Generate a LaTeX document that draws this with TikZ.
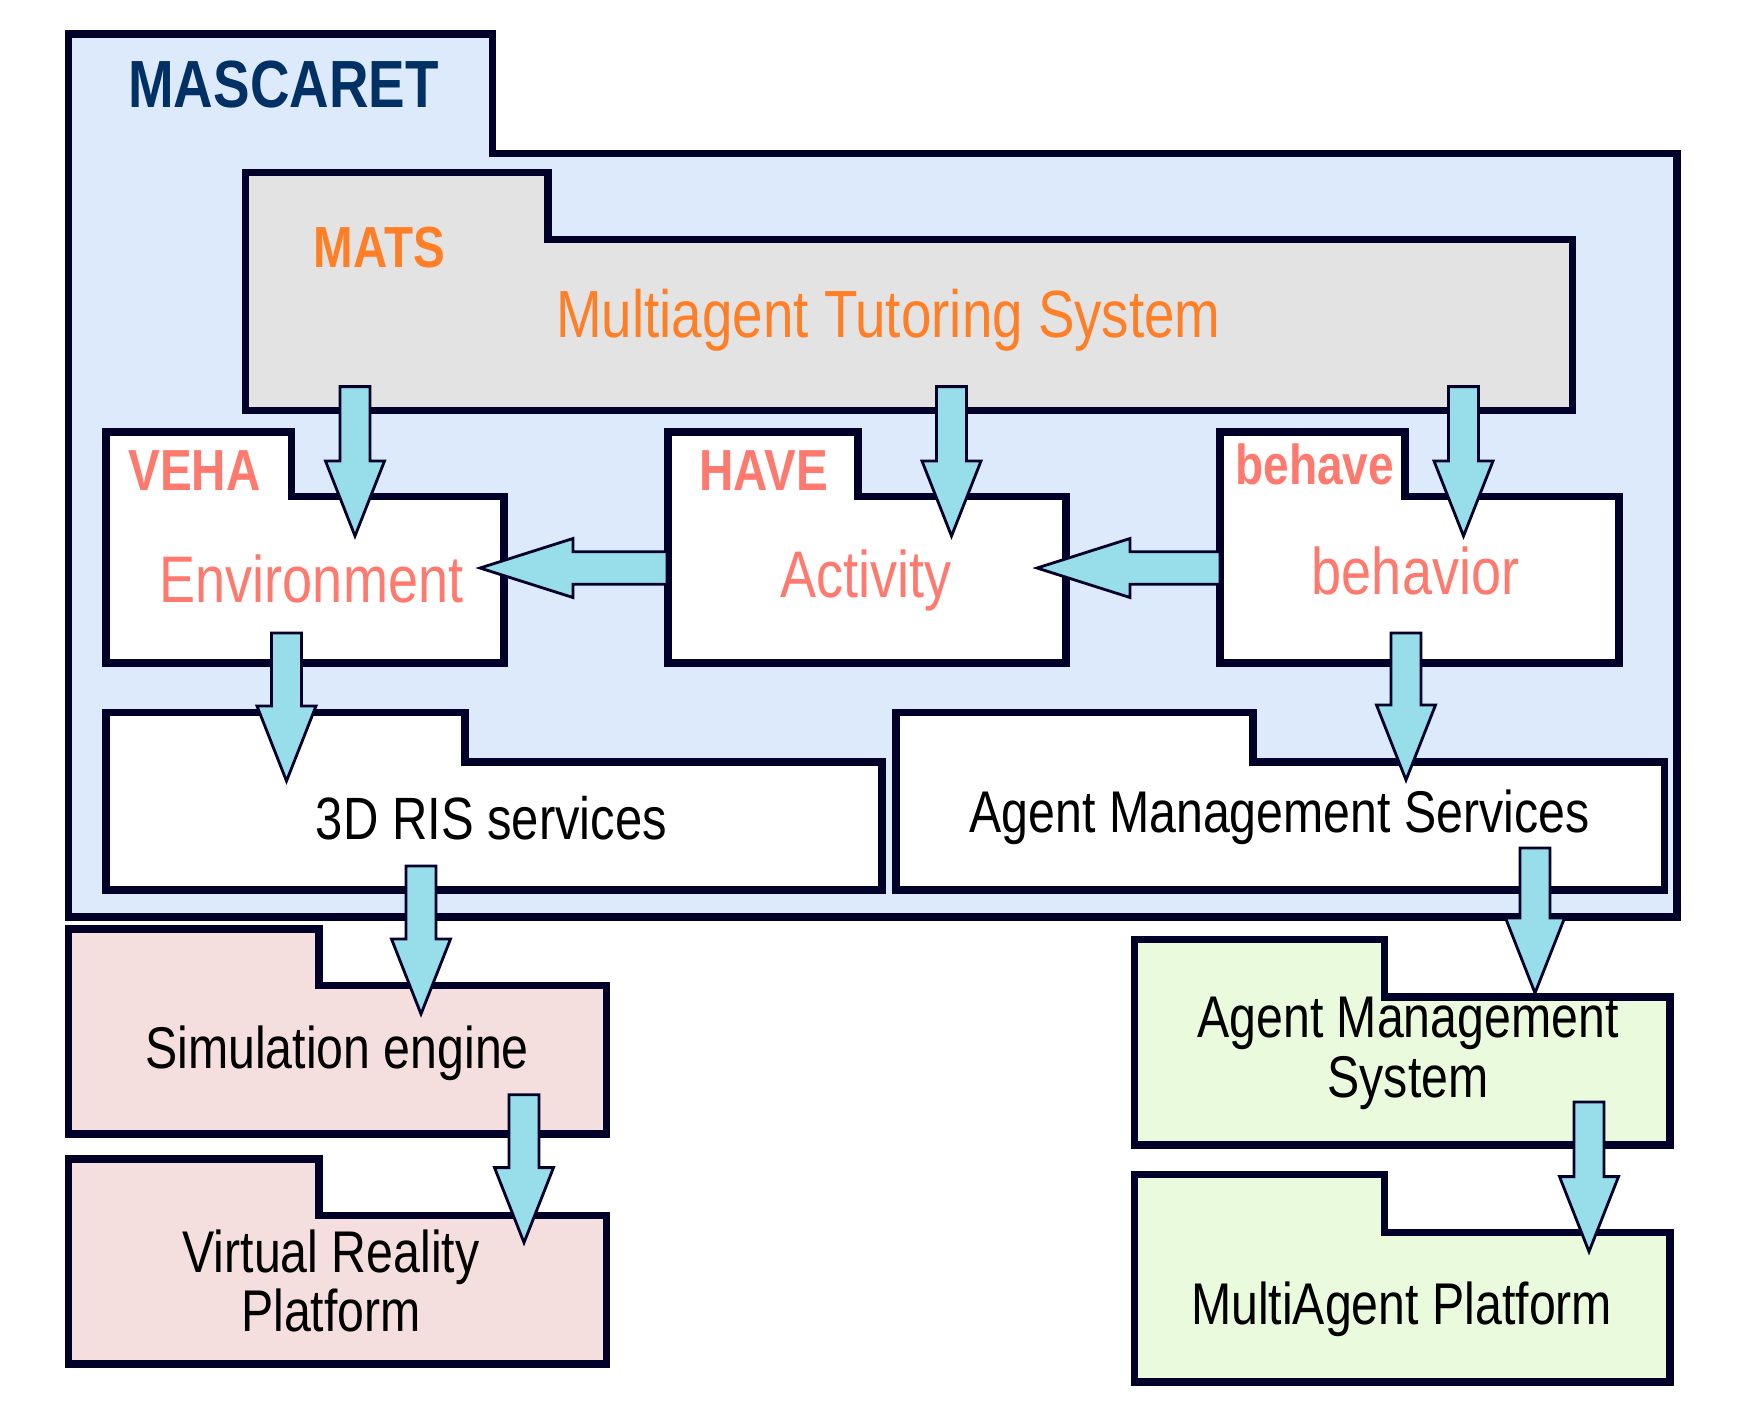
\documentclass[tikz,border=0pt]{standalone}
\usepackage{fontspec}
\usepackage{xcolor}
\usetikzlibrary{calc}
\setmainfont{Liberation Sans}[FakeStretch=0.82]

\definecolor{linenavy}{RGB}{0,0,40}
\definecolor{mascfill}{RGB}{220,234,252}
\definecolor{matsfill}{RGB}{227,227,227}
\definecolor{simfill}{RGB}{245,222,222}
\definecolor{agentfill}{RGB}{233,250,221}
\definecolor{arrowcyan}{RGB}{152,222,234}
\definecolor{mascblue}{RGB}{0,48,100}
\definecolor{matsorange}{RGB}{255,127,39}
\definecolor{salmon}{RGB}{255,122,110}

\begin{document}
\begin{tikzpicture}[x=0.02cm,y=-0.02cm,
    folder/.style={draw=linenavy,line width=4.2pt},
    blockarrow/.style={draw=linenavy,fill=arrowcyan,line width=1.6pt},
    txt/.style={inner sep=0pt,anchor=base}]
        \useasboundingbox (0,0) rectangle (1750,1418);

        % folders
        \draw[folder,fill=mascfill] (68.6,33.9) -- (492.7,33.9) -- (492.7,153.7) -- (1677,153.7) -- (1677,917) -- (68.6,917) -- cycle;
        \draw[folder,fill=matsfill] (245.5,172.7) -- (548,172.7) -- (548,239.6) -- (1572.5,239.6) -- (1572.5,410.6) -- (245.5,410.6) -- cycle;
        \draw[folder,fill=white] (106,431.8) -- (291.3,431.8) -- (291.3,496.5) -- (504,496.5) -- (504,663) -- (106,663) -- cycle;
        \draw[folder,fill=white] (668,431.8) -- (858,431.8) -- (858,496.5) -- (1066,496.5) -- (1066,663) -- (668,663) -- cycle;
        \draw[folder,fill=white] (1220,431.8) -- (1405,431.8) -- (1405,496.5) -- (1619,496.5) -- (1619,663) -- (1220,663) -- cycle;
        \draw[folder,fill=white] (106,712.6) -- (465,712.6) -- (465,762) -- (882,762) -- (882,890) -- (106,890) -- cycle;
        \draw[folder,fill=white] (896,712.6) -- (1253,712.6) -- (1253,762) -- (1664.6,762) -- (1664.6,890) -- (896,890) -- cycle;
        \draw[folder,fill=simfill] (68.6,929) -- (319,929) -- (319,985.7) -- (606.6,985.7) -- (606.6,1134) -- (68.6,1134) -- cycle;
        \draw[folder,fill=simfill] (68.6,1159) -- (319,1159) -- (319,1215.5) -- (606.6,1215.5) -- (606.6,1364) -- (68.6,1364) -- cycle;
        \draw[folder,fill=agentfill] (1134.5,939.6) -- (1384.5,939.6) -- (1384.5,997) -- (1670,997) -- (1670,1145) -- (1134.5,1145) -- cycle;
        \draw[folder,fill=agentfill] (1134.5,1174.7) -- (1384.5,1174.7) -- (1384.5,1232.6) -- (1670,1232.6) -- (1670,1382) -- (1134.5,1382) -- cycle;

        % titles
        \node[txt,anchor=base west,text=mascblue,font=\fontsize{38}{40}\selectfont\bfseries] (mascaret) at (128,107) {MASCARET};
        \node[txt,anchor=base west,text=matsorange,font=\fontsize{33}{35}\selectfont\bfseries] (mats) at (313.6,267.7) {MATS};
        \node[txt,text=matsorange,font=\fontsize{38}{40}\selectfont] (tutor) at (888.5,337) {Multiagent Tutoring System};
        \node[txt,anchor=base west,text=salmon,font=\fontsize{33}{35}\selectfont\bfseries] (veha) at (128,490.6) {VEHA};
        \node[txt,anchor=base west,text=salmon,font=\fontsize{33}{35}\selectfont\bfseries] (have) at (699,490) {HAVE};
        \node[txt,anchor=base west,text=salmon,font=\fontsize{32}{34}\selectfont\bfseries] (behave) at (1235,484) {behave};
        \node[txt,text=salmon,font=\fontsize{37.5}{40}\selectfont] (env) at (311.5,602) {Environment};
        \node[txt,text=salmon,font=\fontsize{37.5}{40}\selectfont] (activity) at (866,597) {Activity};
        \node[txt,text=salmon,font=\fontsize{37.5}{40}\selectfont] (behavior) at (1415.5,594.6) {behavior};
        \node[txt,font=\fontsize{34}{36}\selectfont] (ris) at (491.5,839) {3D RIS services};
        \node[txt,font=\fontsize{33.5}{36}\selectfont] (ams) at (1279.6,832) {Agent Management Services};
        \node[txt,font=\fontsize{33.5}{36}\selectfont] (sim) at (337,1068.5) {Simulation engine};
        \node[txt,align=center,font=\fontsize{33.5}{33.5}\selectfont] (vr) at (331,1331) {Virtual Reality\\Platform};
        \node[txt,align=center,font=\fontsize{33.5}{34}\selectfont] (amsys) at (1408,1097) {Agent Management\\System};
        \node[txt,font=\fontsize{33.5}{36}\selectfont] (map) at (1401.6,1324) {MultiAgent Platform};

        % arrow ends
        \coordinate (m1) at (355,386.6);    \coordinate (e1) at (355,536);
        \coordinate (m2) at (951.5,386.6);  \coordinate (a1) at (951.5,536);
        \coordinate (m3) at (1463.5,386.6); \coordinate (b1) at (1463.5,536);
        \coordinate (e2) at (286.5,633);    \coordinate (r1) at (286.5,781);
        \coordinate (b2) at (1406,633);     \coordinate (s1) at (1406,780);
        \coordinate (r2) at (421,866);      \coordinate (g1) at (421,1014);
        \coordinate (g2) at (524,1094.7);   \coordinate (v1) at (524,1242.6);
        \coordinate (s2) at (1535,848);     \coordinate (y1) at (1535,993);
        \coordinate (y2) at (1589,1102);    \coordinate (p1) at (1589,1251.6);
        \coordinate (h1) at (667,568);      \coordinate (e3) at (480,568);
        \coordinate (b3) at (1220,568);     \coordinate (a2) at (1037,568);

        % arrows
        \foreach \s/\t in {m1/e1,m2/a1,m3/b1,e2/r1,b2/s1,r2/g1,g2/v1,s2/y1,y2/p1}
            \draw[blockarrow] ($(\s)+(-15,0)$) -- ($(\t)+(-15,-75)$) -- ($(\t)+(-29.5,-75)$) -- (\t)
                -- ($(\t)+(29.5,-75)$) -- ($(\t)+(15,-75)$) -- ($(\s)+(15,0)$) -- cycle;
        \foreach \s/\t in {h1/e3,b3/a2}
            \draw[blockarrow] ($(\s)+(0,-16.3)$) -- ($(\t)+(93,-16.3)$) -- ($(\t)+(93,-29.5)$) -- (\t)
                -- ($(\t)+(93,29.5)$) -- ($(\t)+(93,16.3)$) -- ($(\s)+(0,16.3)$) -- cycle;
    \end{tikzpicture}
\end{document}
